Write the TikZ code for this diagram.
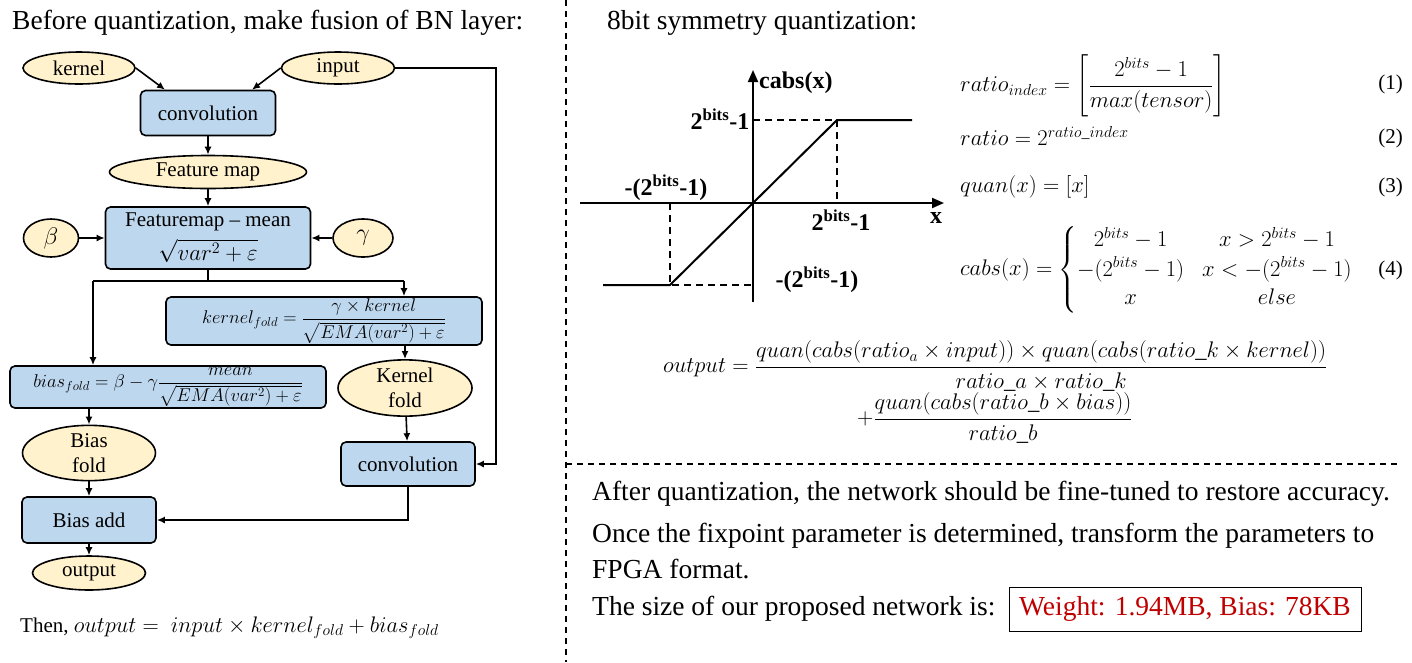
\RequirePackage{fix-cm}
\documentclass[tikz,border=0pt]{standalone}
\usepackage{amsmath}
\usepackage[no-math]{fontspec}
\setmainfont{Liberation Serif}
\usetikzlibrary{shapes.geometric,arrows.meta,calc}
\definecolor{boxblue}{HTML}{BDD7EE}
\definecolor{ellyel}{HTML}{FFF2CC}
\definecolor{redtxt}{HTML}{C00000}
\newcommand{\mi}[1]{#1}
\tikzset{
  flowbox/.style={draw, line width=1.6pt, rounded corners=5pt, fill=boxblue, inner sep=0pt, align=center, font=\fontsize{21}{24}\selectfont},
  flowell/.style={draw, ellipse, line width=1.6pt, fill=ellyel, inner sep=0pt, align=center, font=\fontsize{21}{24}\selectfont},
  arr/.style={line width=1.6pt, -{Latex[length=8pt,width=7pt]}},
  plain/.style={line width=1.6pt},
  divider/.style={line width=1.3pt, dash pattern=on 6pt off 5pt},
  bigtxt/.style={inner sep=0pt, anchor=west, font=\fontsize{27.5}{32}\selectfont},
  eqtxt/.style={inner sep=0pt, anchor=west, font=\fontsize{22.6}{27}\selectfont},
  eqnum/.style={inner sep=0pt, anchor=east, font=\fontsize{21}{25}\selectfont},
  glab/.style={inner sep=0pt, font=\bfseries\fontsize{24}{28}\selectfont},
  gline/.style={line width=2pt},
  gdash/.style={line width=1.8pt, dash pattern=on 7pt off 5pt},
}
\begin{document}
\begin{tikzpicture}[x=1pt,y=-1pt]
\useasboundingbox (0,0) rectangle (1412,662);
% dividers
\draw[divider] (566,0) -- (566,662);
\draw[divider] (566,464) -- (1400,464);
% titles
\node[bigtxt] (t1) at (12,23) {Before quantization, make fusion of BN layer:};
\node[bigtxt] (t2) at (607,23) {8bit symmetry quantization:};

% ---------- flowchart ----------
\node[flowell, minimum width=112, minimum height=32] (kernel) at (79,68) {kernel};
\node[flowell, minimum width=113, minimum height=32] (input) at (338,68) {input};
\node[flowbox, minimum width=135, minimum height=45] (conv) at (208,113) {convolution};
\node[flowell, minimum width=197, minimum height=33] (fmap) at (208,172) {Feature map};
\node[flowbox, minimum width=205, minimum height=62] (fbox) at (208,238) {Featuremap -- mean\\[7pt] {\fontsize{23}{24}\selectfont$\sqrt{\mi{var}^2+\varepsilon}$}};
\node[flowell, minimum width=55, minimum height=38, font=\fontsize{24}{26}\selectfont] (beta) at (51,238) {$\beta$};
\node[flowell, minimum width=60, minimum height=38, font=\fontsize{24}{26}\selectfont] (gamma) at (363,238) {$\gamma$};
\node[flowbox, minimum width=316, minimum height=48, font=\fontsize{18.4}{21}\selectfont] (kbox) at (324,321)
  {$\mi{kernel}_{\mi{fold}} = \dfrac{\gamma\times \mi{kernel}}{\sqrt{\mi{EMA}(\mi{var}^2)+\varepsilon}}$};
\node[flowell, minimum width=134, minimum height=50] (kfold) at (405,388) {Kernel\\[1pt]fold};
\node[flowbox, minimum width=134, minimum height=44] (conv2) at (408,464) {convolution};
\node[flowbox, minimum width=316, minimum height=42, font=\fontsize{18.5}{20}\selectfont] (bbox) at (168,387)
  {$\mi{bias}_{\mi{fold}} = \beta - \gamma\dfrac{\mi{mean}}{\sqrt{\mi{EMA}(\mi{var}^2)+\varepsilon}}$};
\node[flowell, minimum width=133, minimum height=49] (bfold) at (89,453) {Bias\\[1pt]fold};
\node[flowbox, minimum width=134, minimum height=46] (badd) at (89,520) {Bias add};
\node[flowell, minimum width=113, minimum height=34] (out) at (89,573) {output};
\node[inner sep=0pt, anchor=west, font=\fontsize{21}{25}\selectfont] (then) at (20,628)
  {Then, {\fontsize{22.5}{25}\selectfont$\mi{output} =\ \mi{input}\times \mi{kernel}_{\mi{fold}} + \mi{bias}_{\mi{fold}}$}};

% connectors
\draw[arr] (kernel.east) -- ([xshift=-43pt]conv.north);
\draw[arr] (input.west) -- ([xshift=44pt]conv.north);
\coordinate (ir) at (496,68);
\draw[arr] (input.east) -- (ir) |- (conv2.east);
\draw[arr] (conv) -- (fmap);
\draw[arr] (fmap) -- (fbox);
\draw[arr] (beta) -- (fbox);
\draw[arr] (gamma) -- (fbox);
\coordinate (sp) at (208,281);
\coordinate (bl) at (93,281);
\coordinate (kr) at (404,281);
\draw[plain] (fbox.south) -- (sp);
\draw[plain] (bl) -- (kr);
\draw[arr] (bl) -- (bl |- bbox.north);
\draw[arr] (kr) -- (kr |- kbox.north);
\draw[arr] (kfold.north |- kbox.south) -- (kfold.north);
\draw[arr] (kfold) -- (conv2);
\draw[arr] (bfold.north |- bbox.south) -- (bfold.north);
\draw[arr] (bfold) -- (badd);
\draw[arr] (conv2.south) |- (badd.east);
\draw[arr] (badd) -- (out);

% ---------- graph ----------
\draw[gline, -{Triangle[length=12pt,width=10pt]}] (580,203) -- (944,203);
\draw[gline, -{Triangle[length=12pt,width=10pt]}] (753,302) -- (753,70);
\draw[gline] (603,285) -- (670,285) -- (837,120) -- (912,120);
\draw[gdash] (753,120) -- (837,120) -- (837,203);
\draw[gdash] (670,203) -- (670,285) -- (753,285);
\node[glab, anchor=west] (ylab) at (759,83) {cabs(x)};
\node[glab] (l1) at (720,119) {2$^{\text{bits}}$-1};
\node[glab] (l2) at (666,188) {-(2$^{\text{bits}}$-1)};
\node[glab] (l3) at (841,220) {2$^{\text{bits}}$-1};
\node[glab] (xlab) at (936,218) {x};
\node[glab] (l4) at (817,280) {-(2$^{\text{bits}}$-1)};

% ---------- equations ----------
\node[eqtxt] (e1) at (960,86) {$\mi{ratio}_{\mi{index}} = \left[\dfrac{2^{\mi{bits}}-1}{\mi{max}(\mi{tensor})}\right]$};
\node[eqtxt] (e2) at (960,136) {$\mi{ratio} = 2^{\mi{ratio\_index}}$};
\node[eqtxt] (e3) at (960,187) {$\mi{quan}(x) = [x]$};
\node[eqtxt] (e4) at (960,270) {\renewcommand{\arraystretch}{1.0}$\mi{cabs}(x) = \left\{\begin{array}{@{}c@{\hspace{18pt}}c@{}} 2^{\mi{bits}}-1 & x > 2^{\mi{bits}}-1\\[2pt] -(2^{\mi{bits}}-1) & x < -(2^{\mi{bits}}-1)\\[1pt] x & \mi{else}\end{array}\right.$};
\node[eqnum] (n1) at (1403,84) {(1)};
\node[eqnum] (n2) at (1403,138) {(2)};
\node[eqnum] (n3) at (1403,187) {(3)};
\node[eqnum] (n4) at (1403,270) {(4)};

\node[eqtxt] (oeq1) at (663,366) {$\mi{output} = \dfrac{\mi{quan}(\mi{cabs}(\mi{ratio}_a\times \mi{input}))\times \mi{quan}(\mi{cabs}(\mi{ratio\_k}\times\mi{kernel}))}{\mi{ratio\_a}\times\mi{ratio\_k}}$};
\node[eqtxt] (oeq2) at (857,418) {$+\dfrac{\mi{quan}(\mi{cabs}(\mi{ratio\_b}\times\mi{bias}))}{\mi{ratio\_b}}$};

% ---------- bottom text ----------
\node[bigtxt] (b1) at (592,494) {After quantization, the network should be fine-tuned to restore accuracy.};
\node[bigtxt] (b2) at (592,536) {Once the fixpoint parameter is determined, transform the parameters to};
\node[bigtxt] (b3) at (592,569) {FPGA format.};
\node[bigtxt] (b4) at (592,609) {The size of our proposed network is:};
\node[draw, line width=1pt, minimum width=352, minimum height=44, inner sep=0pt, text=redtxt, font=\fontsize{27.5}{32}\selectfont] (sz) at (1185,609) {Weight: 1.94MB, Bias: 78KB};
\end{tikzpicture}
\end{document}
